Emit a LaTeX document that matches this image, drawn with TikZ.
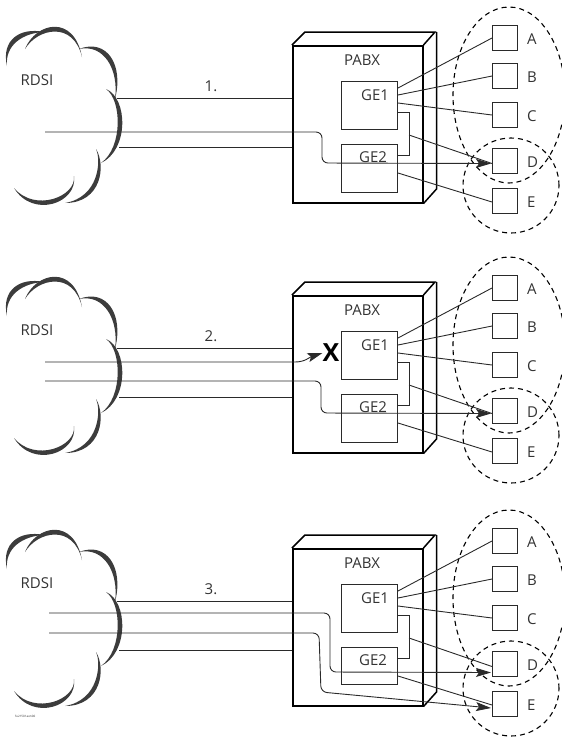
\documentclass[tikz,border=0pt]{standalone}
\usepackage{fontspec}
\setmainfont{Open Sans}
\usetikzlibrary{calc,arrows.meta}
\definecolor{ink}{HTML}{2A2A2A}
\definecolor{txt}{HTML}{333333}
\definecolor{cloudc}{HTML}{3C3C3C}
\tikzset{
  wire/.style={draw=ink, line width=0.9pt},
  gebox/.style={draw=ink, line width=1pt, anchor=north west, minimum width=56pt, inner sep=0pt},
  pabxline/.style={draw=black, line width=1.5pt, line join=miter},
  term/.style={draw=ink, line width=1pt, minimum width=25pt, minimum height=25pt, inner sep=0pt, anchor=north west},
  lbl/.style={text=txt, font=\fontsize{15}{15}\selectfont, inner sep=0pt},
  grp/.style={draw=black, dash pattern=on 5pt off 4pt, line width=1.1pt},
  arr/.style={-{Stealth[length=15pt,width=9pt,inset=3pt]}},
}
\newcommand\cloudarc[4]{%
  \fill[cloudc] (#1) .. controls (#2) and (#3) .. (#4)
     .. controls ($(#3)!6.5pt!(60,120)$) and ($(#2)!6.5pt!(60,120)$) .. (#1);}
\newcommand\drawpanel[3]{%
  % cloud
  \cloudarc{7,66}{1,40}{20,27}{44,32}
  \cloudarc{25,49}{36,22}{74,14}{82,57}
  \cloudarc{79,49}{107,38}{124,65}{115,99}
  \cloudarc{106,89}{128,98}{129,150}{101,163}
  \cloudarc{96,149}{106,165}{102,203}{65,203}
  \cloudarc{74,176}{78,203}{33,219}{14,188}
  \node[lbl] (rdsi#1) at (37,80) {RDSI};
  \node[lbl] (num#1) at (211,86) {#2};
  % PABX
  \node[pabxline, anchor=north west, minimum width=130pt, minimum height=157pt, inner sep=0pt] (pabx#1) at (292,45) {};
  \draw[pabxline] (pabx#1.north west) -- ++(13,-13) -- ++(130,0) -- (pabx#1.north east);
  \draw[pabxline] ($(pabx#1.north east)+(13,-13)$) -- ++(0,157) -- (pabx#1.south east);
  \node[lbl] (pl#1) at (362,60) {PABX};
  \node[gebox, minimum height=48pt] (geA#1) at (341,81) {};
  \node[gebox, minimum height=#3pt] (geB#1) at (341,144) {};
  \node[lbl] (gAl#1) at (375,95) {GE1};
  \node[lbl] (gBl#1) at (373,157) {GE2};
  % terminals
  \node[term] (tA#1) at (492,25) {};
  \node[term] (tB#1) at (492,63) {};
  \node[term] (tC#1) at (492,102) {};
  \node[term] (tD#1) at (492,148) {};
  \node[term] (tE#1) at (492,188) {};
  \foreach \t in {A,B,C,D,E}{\node[lbl, anchor=west] (l\t#1) at ($(t\t#1.east)+(9,1)$) {\t};}
  % groups
  \draw[grp] (509,95) ellipse [x radius=56pt, y radius=88pt];
  \draw[grp] (511,185.5) ellipse [x radius=48pt, y radius=47.5pt];
  % wires
  \draw[wire] (117,98) -- (117,98 -| pabx#1.west);
  \draw[wire] (119,147) -- (119,147 -| pabx#1.west);
  \draw[wire] ($(geA#1.north east)+(0,7)$) -- (tA#1.west);
  \draw[wire] ($(geA#1.north east)+(0,14)$) -- (tB#1.west);
  \draw[wire] ($(geA#1.north east)+(0,22)$) -- (tC#1.west);
  \draw[wire] ($(geA#1.north east)+(0,31)$) -- ++(11,0) -- ++(0,43) -- ($(geB#1.north east)+(0,11)$);
  \draw[wire] ($(geA#1.north east)+(11,54)$) -- ($(tD#1.west)+(0,2.5)$);
  \draw[wire] ($(geB#1.north east)+(0,29)$) -- ($(tE#1.west)+(0,1)$);
}
\begin{document}
\begin{tikzpicture}[x=1pt,y=-1pt]
\useasboundingbox (0,0) rectangle (562,740);
% panel 1
\begin{scope}
  \drawpanel{1}{1.}{48}
  \coordinate (s1) at (45,132);
  \draw[wire, arr, rounded corners=6pt] (s1) -- (322,132) -- (322,163) -- ($(tD1.west)+(-1,2.5)$);
\end{scope}
% panel 2
\begin{scope}[shift={(0,250)}]
  \drawpanel{2}{2.}{48}
  \node[font=\fontsize{25}{25}\selectfont\bfseries, text=black, inner sep=0pt] (x2) at (331,103) {X};
  \coordinate (s2a) at (45,112);
  \coordinate (s2b) at (45,131);
  \draw[wire, arr] (s2a) -- (295,112) .. controls (305,112) and (310,107) .. (x2.west);
  \draw[wire, arr, rounded corners=6pt] (s2b) -- (321,131) -- (321,163) -- ($(tD2.west)+(-1,2.5)$);
\end{scope}
% panel 3
\begin{scope}[shift={(0,503)}]
  \drawpanel{3}{3.}{37}
  \coordinate (s3a) at (49,110);
  \coordinate (s3b) at (49,130);
  \draw[wire, arr, rounded corners=6pt] (s3a) -- (330,110) -- (330,169) -- ($(tD3.west)+(-1,8.5)$);
  \draw[wire, arr, rounded corners=6pt] (s3b) -- (319,130) -- (321,189) -- ($(tE3.west)+(-1,4)$);
  \node[text=txt, font=\fontsize{3}{3}\selectfont, inner sep=0pt, anchor=west] (ref3) at (15,213) {fu21501aen00};
\end{scope}
\end{tikzpicture}
\end{document}
